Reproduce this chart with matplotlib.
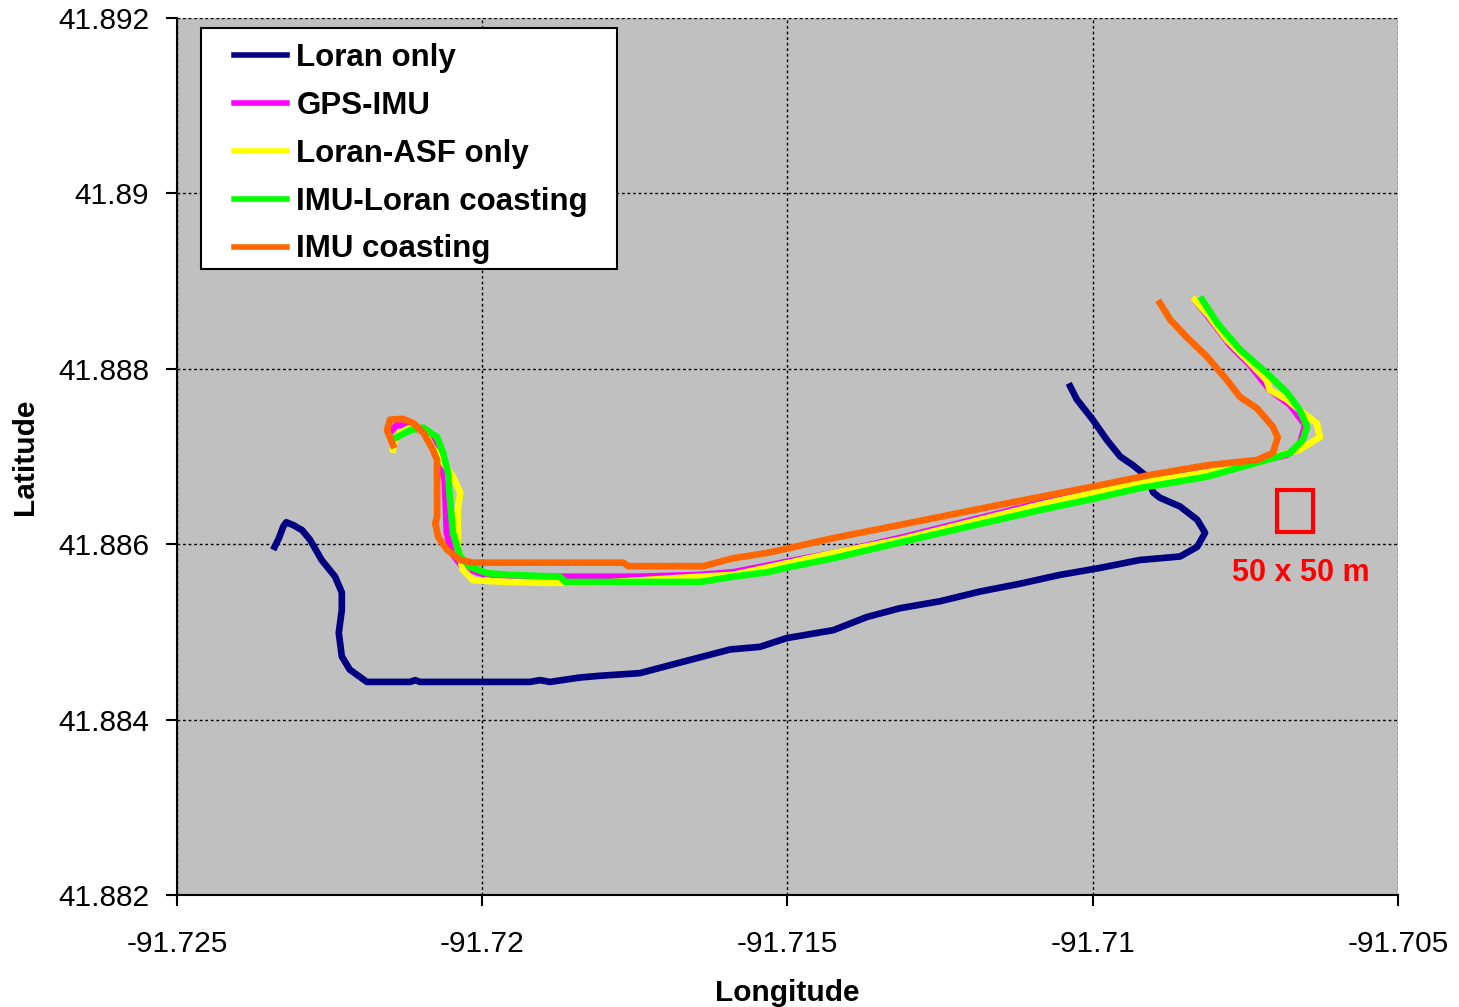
import matplotlib
matplotlib.use("Agg")
import matplotlib.pyplot as plt
from matplotlib.patches import Rectangle
from matplotlib.ticker import FuncFormatter

plt.rcParams['font.family'] = ['Liberation Sans', 'DejaVu Sans']

# Loran only
loran_lon = [-91.72340, -91.72333, -91.72326, -91.72321, -91.72310, -91.72295, -91.72282, -91.72263,
             -91.72241, -91.72230, -91.72230, -91.72235, -91.72230, -91.72217, -91.72189, -91.72118,
             -91.72110, -91.72102, -91.71922, -91.71905, -91.71889, -91.71840, -91.71807, -91.71742,
             -91.71660, -91.71594, -91.71545, -91.71501, -91.71425, -91.71370, -91.71316, -91.71250,
             -91.71185, -91.71119, -91.71054, -91.70988, -91.70923, -91.70857, -91.70829, -91.70816,
             -91.70829, -91.70857, -91.70890, -91.70901, -91.70911, -91.70934, -91.70955, -91.70977,
             -91.71000, -91.71026, -91.71037]
loran_lat = [41.88597, 41.88607, 41.88620, 41.88625, 41.88622, 41.88616, 41.88605, 41.88582,
             41.88563, 41.88545, 41.88525, 41.88499, 41.88472, 41.88457, 41.88443, 41.88443,
             41.88445, 41.88443, 41.88443, 41.88445, 41.88443, 41.88448, 41.88450, 41.88453,
             41.88468, 41.88480, 41.88483, 41.88493, 41.88502, 41.88517, 41.88527, 41.88535,
             41.88546, 41.88555, 41.88565, 41.88573, 41.88582, 41.88586, 41.88597, 41.88613,
             41.88628, 41.88643, 41.88653, 41.88659, 41.88677, 41.88690, 41.88700, 41.88719,
             41.88742, 41.88765, 41.88780]

# GPS-IMU
gps_lon = [-91.72148, -91.72140, -91.72118, -91.72091, -91.72074, -91.72066, -91.72061, -91.72058,
           -91.72050, -91.72032, -91.72004, -91.71955, -91.71742, -91.71643, -91.71589, -91.71501,
           -91.71425, -91.71316, -91.71086, -91.70923, -91.70813, -91.70731, -91.70682, -91.70661,
           -91.70652, -91.70677, -91.70710, -91.70742, -91.70775, -91.70800, -91.70833]
gps_lat = [41.88730, 41.88736, 41.88734, 41.88727, 41.88708, 41.88688, 41.88670, 41.88613,
           41.88590, 41.88574, 41.88567, 41.88563, 41.88563, 41.88565, 41.88568, 41.88580,
           41.88590, 41.88607, 41.88647, 41.88668, 41.88685, 41.88694, 41.88702, 41.88713,
           41.88736, 41.88759, 41.88776, 41.88804, 41.88827, 41.88850, 41.88879]

# Loran-ASF only
asf_lon = [-91.72146, -91.72143, -91.72135, -91.72118, -91.72097, -91.72082, -91.72064, -91.72048,
           -91.72036, -91.72040, -91.72040, -91.72032, -91.72015, -91.71955, -91.71889, -91.71807,
           -91.71643, -91.71589, -91.71496, -91.71425, -91.71316, -91.71086, -91.70923, -91.70813,
           -91.70731, -91.70661, -91.70628, -91.70633, -91.70656, -91.70682, -91.70710, -91.70715,
           -91.70747, -91.70780, -91.70808, -91.70833]
asf_lat = [41.88708, 41.88719, 41.88727, 41.88733, 41.88730, 41.88711, 41.88693, 41.88677,
           41.88659, 41.88639, 41.88597, 41.88571, 41.88559, 41.88557, 41.88556, 41.88556,
           41.88563, 41.88565, 41.88579, 41.88590, 41.88605, 41.88645, 41.88670, 41.88682,
           41.88693, 41.88708, 41.88722, 41.88738, 41.88750, 41.88765, 41.88776, 41.88787,
           41.88810, 41.88833, 41.88859, 41.88879]

# IMU-Loran coasting
imul_lon = [-91.72140, -91.72118, -91.72097, -91.72074, -91.72064, -91.72056, -91.72053, -91.72048,
            -91.72036, -91.72020, -91.71992, -91.71955, -91.71873, -91.71864, -91.71643, -91.71589,
            -91.71534, -91.71496, -91.71425, -91.71316, -91.71086, -91.71005, -91.70923, -91.70813,
            -91.70731, -91.70677, -91.70656, -91.70649, -91.70661, -91.70682, -91.70715, -91.70759,
            -91.70796, -91.70821]
imul_lat = [41.88722, 41.88730, 41.88733, 41.88722, 41.88704, 41.88681, 41.88651, 41.88613,
            41.88586, 41.88574, 41.88567, 41.88565, 41.88563, 41.88557, 41.88557, 41.88563,
            41.88568, 41.88574, 41.88584, 41.88602, 41.88639, 41.88651, 41.88664, 41.88677,
            41.88693, 41.88704, 41.88719, 41.88734, 41.88753, 41.88773, 41.88795, 41.88822,
            41.88852, 41.88879]

# IMU coasting
imu_lon = [-91.72146, -91.72156, -91.72151, -91.72130, -91.72113, -91.72097, -91.72081, -91.72074,
           -91.72074, -91.72077, -91.72072, -91.72058, -91.72036, -91.72015, -91.71769, -91.71761,
           -91.71638, -91.71589, -91.71534, -91.71501, -91.71425, -91.71316, -91.71152, -91.71005,
           -91.70906, -91.70813, -91.70731, -91.70705, -91.70697, -91.70705, -91.70731, -91.70759,
           -91.70780, -91.70813, -91.70846, -91.70873, -91.70890]
imu_lat = [41.88713, 41.88730, 41.88742, 41.88743, 41.88738, 41.88728, 41.88708, 41.88696,
           41.88631, 41.88624, 41.88608, 41.88594, 41.88582, 41.88579, 41.88579, 41.88575,
           41.88575, 41.88584, 41.88590, 41.88595, 41.88607, 41.88622, 41.88645, 41.88665,
           41.88679, 41.88690, 41.88696, 41.88704, 41.88722, 41.88734, 41.88755, 41.88768,
           41.88787, 41.88814, 41.88836, 41.88856, 41.88875]

x_ticks = [-91.725, -91.72, -91.715, -91.71, -91.705]
y_ticks = [41.882, 41.884, 41.886, 41.888, 41.89, 41.892]

# 50 x 50 m box (lower left corner, width, height in degrees)
box_lon, box_lat = -91.70699, 41.88614
box_w, box_h = 0.00060, 0.00048

fig = plt.figure(figsize=(14.59, 10.07), dpi=100)
ax = fig.add_axes([0.1213, 0.1112, 0.8369, 0.8709])
ax.set_facecolor('#C0C0C0')

lw = 4.8
ax.plot(loran_lon, loran_lat, color='#000080', lw=lw, label='Loran only')
ax.plot(gps_lon, gps_lat, color='#FF00FF', lw=lw, label='GPS-IMU')
ax.plot(asf_lon, asf_lat, color='#FFFF00', lw=lw, label='Loran-ASF only')
ax.plot(imul_lon, imul_lat, color='#00FF00', lw=lw, label='IMU-Loran coasting')
ax.plot(imu_lon, imu_lat, color='#FF6600', lw=lw, label='IMU coasting')

ax.add_patch(Rectangle((box_lon, box_lat), box_w, box_h, fill=False,
                       edgecolor='#FF0000', lw=3))
ax.text(box_lon + box_w / 2 + 0.00010, 41.88567, '50 x 50 m', color='#FF0000',
        fontsize=22, fontweight='bold', ha='center', va='center')

ax.set_xlim(-91.725, -91.705)
ax.set_ylim(41.882, 41.892)
ax.set_xticks(x_ticks)
ax.set_yticks(y_ticks)
fmt = FuncFormatter(lambda v, p: '%g' % v)
ax.xaxis.set_major_formatter(fmt)
ax.yaxis.set_major_formatter(fmt)
ax.tick_params(axis='both', labelsize=21.5, length=8, width=1.5, direction='out')
ax.tick_params(axis='x', pad=17)
ax.tick_params(axis='y', pad=12)

ax.set_axisbelow(True)
ax.grid(True, color='black', lw=1, linestyle=(0, (2, 2)))
ax.spines['top'].set_visible(False)
ax.spines['right'].set_visible(False)
ax.spines['left'].set_linewidth(1.5)
ax.spines['bottom'].set_linewidth(1.5)

ax.set_xlabel('Longitude', fontsize=21.5, fontweight='bold', labelpad=15)
ax.set_ylabel('Latitude', fontsize=21.5, fontweight='bold', labelpad=14)

# legend box drawn separately (Excel style: wider left/right padding)
ax.add_patch(Rectangle((0.0197, 0.7138), 0.3407, 0.2748, transform=ax.transAxes,
                       facecolor='white', edgecolor='black', lw=1.5, zorder=4))
leg = ax.legend(loc='upper left', bbox_to_anchor=(0.0328, 0.9909), borderaxespad=0,
                prop={'size': 22.5, 'weight': 'bold'}, frameon=False,
                handlelength=1.7, handletextpad=0.29, borderpad=0.55, labelspacing=0.57)
leg.set_zorder(5)
for h in leg.get_lines():
    h.set_linewidth(4)

fig.savefig('out.png', dpi=100)
